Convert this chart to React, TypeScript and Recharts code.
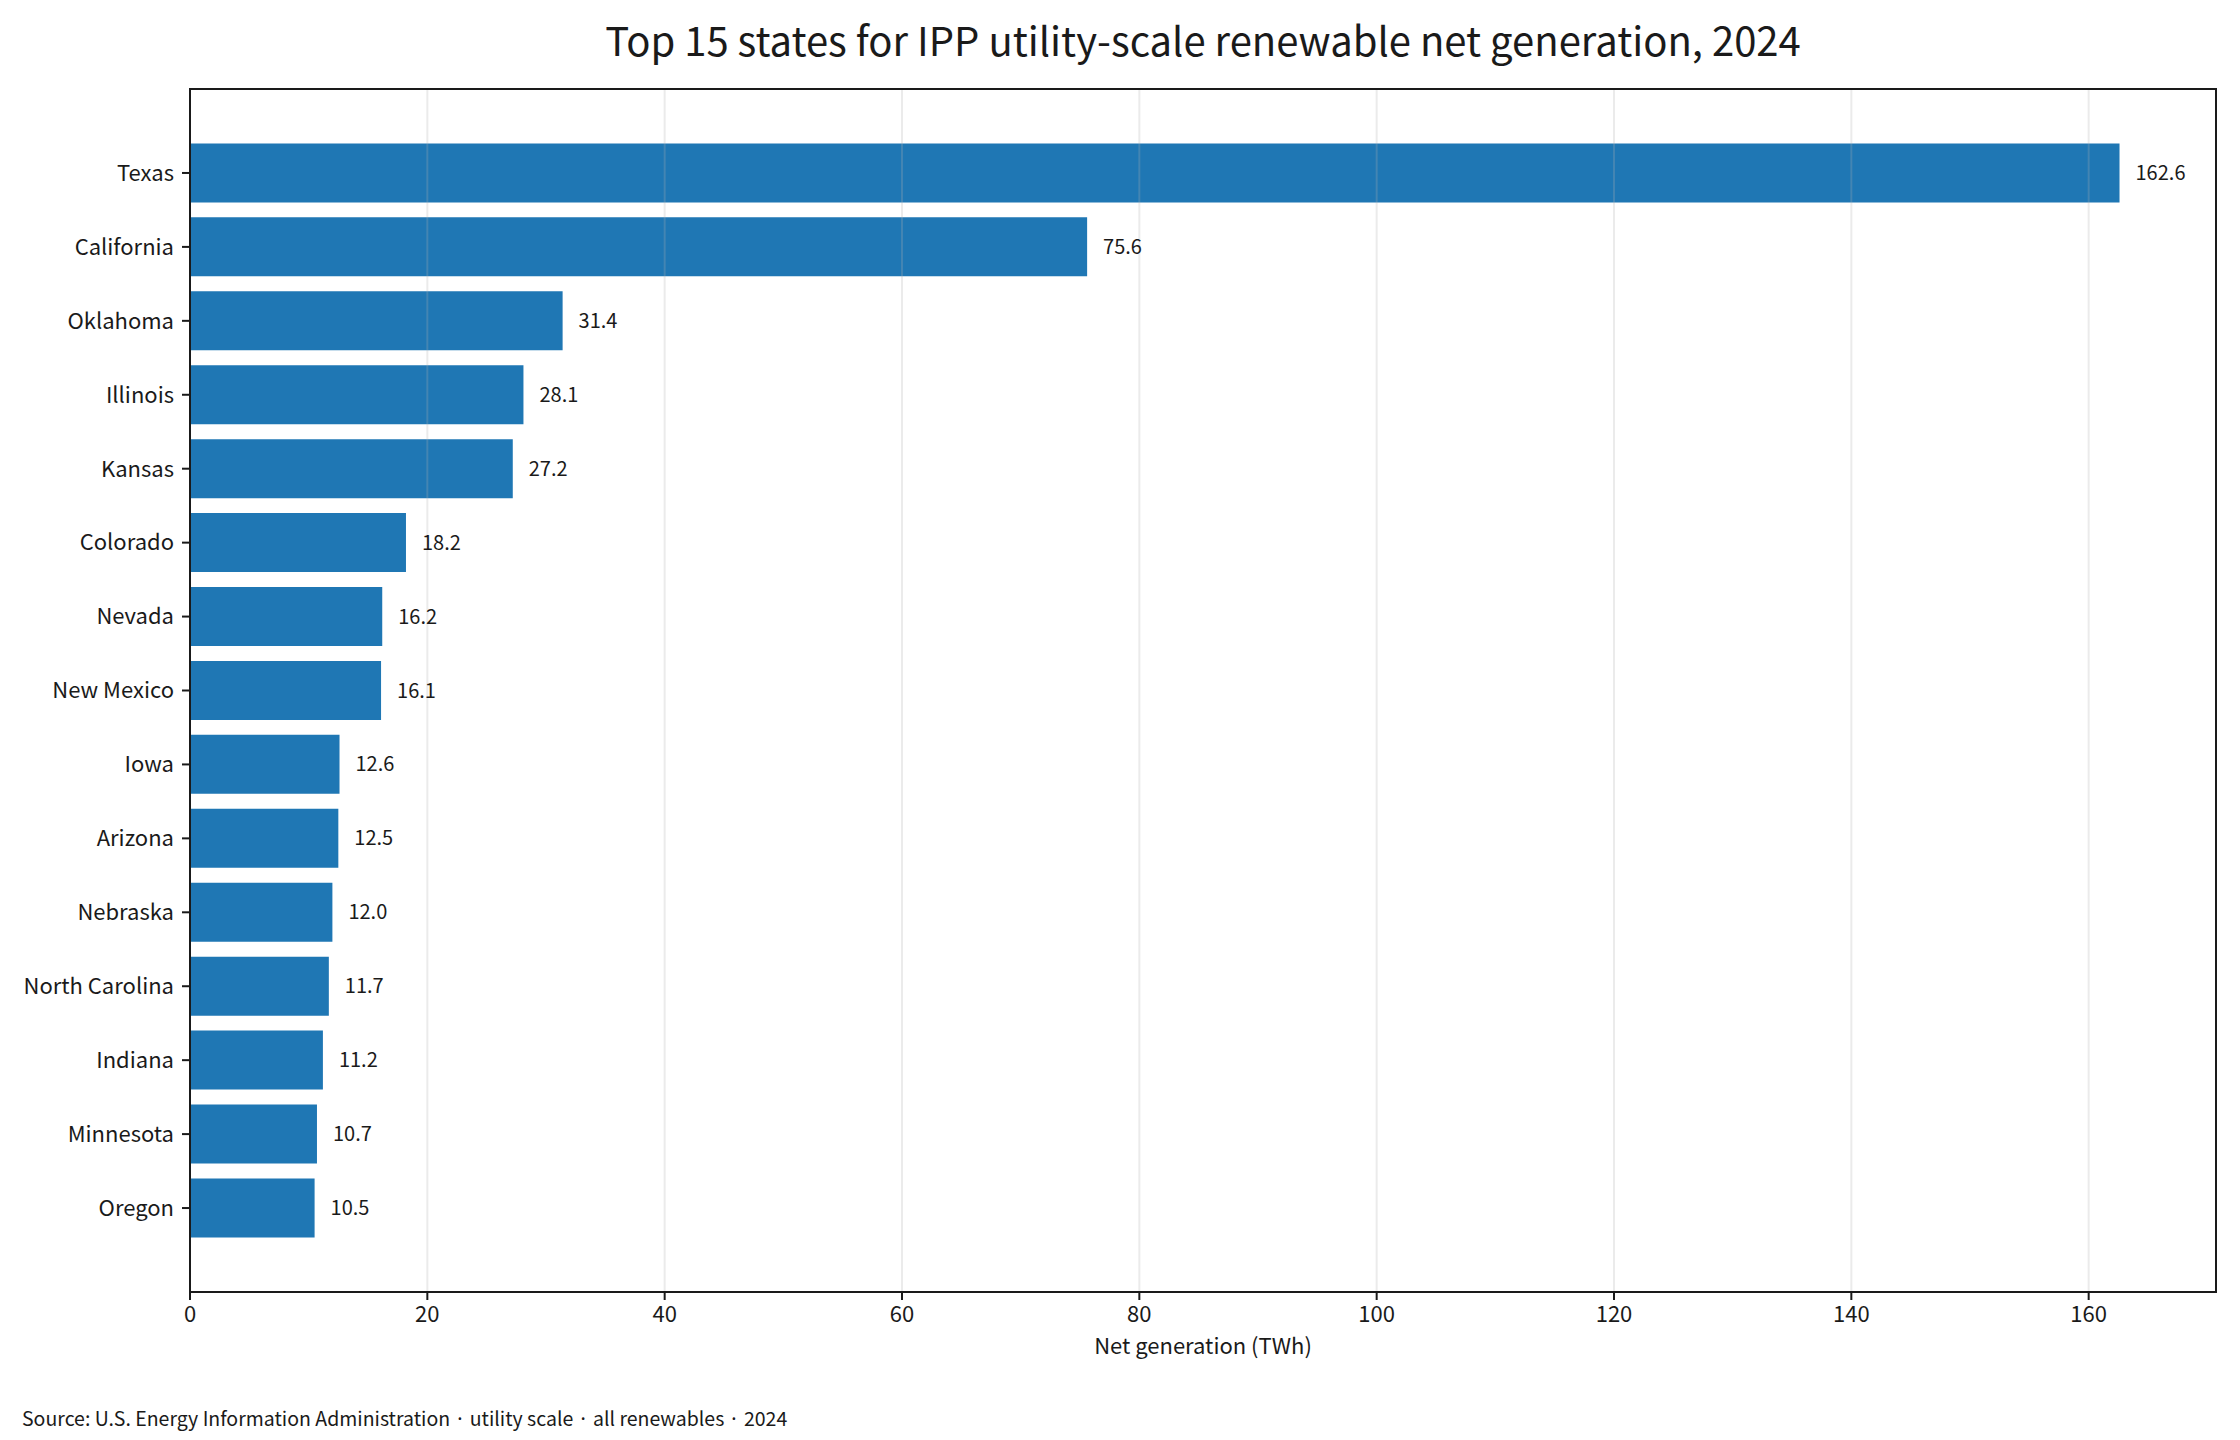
import { BarChart, Bar, XAxis, YAxis, LabelList, ReferenceLine } from "recharts"

// states, top to bottom
const states = [
  "Texas",
  "California",
  "Oklahoma",
  "Illinois",
  "Kansas",
  "Colorado",
  "Nevada",
  "New Mexico",
  "Iowa",
  "Arizona",
  "Nebraska",
  "North Carolina",
  "Indiana",
  "Minnesota",
  "Oregon",
]

// net generation, TWh
const generation = [162.6, 75.6, 31.4, 28.1, 27.2, 18.2, 16.2, 16.1, 12.6, 12.5, 12.0, 11.7, 11.2, 10.7, 10.5]

const xTicks = [0, 20, 40, 60, 80, 100, 120, 140, 160]

const data = states.map((s, i) => ({ state: s, value: generation[i] }))

const FONT = '"Noto Sans CJK KR", "Noto Sans", sans-serif'
const BLUE = "#1f77b4"
const INK = "#1a1a1a"

// plot box in page pixels
const PLOT_LEFT = 190
const PLOT_TOP = 89
const PLOT_RIGHT = 2216
const PLOT_BOTTOM = 1292
const Y_AXIS_W = 180
const X_AXIS_H = 60

export default function App() {
  const xMax = Math.max(...generation) * 1.05

  return (
    <div style={{ position: "absolute", left: 0, top: 0, width: 2240, height: 1440, background: "#fff", fontFamily: FONT }}>
      <div
        style={{
          position: "absolute",
          top: 10,
          left: PLOT_LEFT,
          width: PLOT_RIGHT - PLOT_LEFT,
          textAlign: "center",
          fontSize: 40,
          color: INK,
        }}
      >
        Top 15 states for IPP utility-scale renewable net generation, 2024
      </div>

      <BarChart
        width={2240}
        height={1440}
        data={data}
        layout="vertical"
        barCategoryGap="10%"
        margin={{
          top: PLOT_TOP,
          left: PLOT_LEFT - Y_AXIS_W,
          right: 2240 - PLOT_RIGHT,
          bottom: 1440 - PLOT_BOTTOM - X_AXIS_H,
        }}
        style={{ position: "absolute", left: 0, top: 0 }}
      >
        <XAxis
          type="number"
          domain={[0, xMax]}
          ticks={xTicks}
          height={X_AXIS_H}
          allowDataOverflow
          tickSize={8}
          tickMargin={6}
          axisLine={{ stroke: INK, strokeWidth: 2 }}
          tickLine={{ stroke: INK, strokeWidth: 2 }}
          tick={{ fill: INK, fontSize: 22, fontFamily: FONT }}
        />
        <YAxis
          type="category"
          dataKey="state"
          width={Y_AXIS_W}
          padding={{ top: 47, bottom: 47 }}
          tickSize={8}
          tickMargin={8}
          interval={0}
          axisLine={{ stroke: INK, strokeWidth: 2 }}
          tickLine={{ stroke: INK, strokeWidth: 2 }}
          tick={{ fill: INK, fontSize: 22, fontFamily: FONT }}
        />
        <Bar dataKey="value" fill={BLUE} isAnimationActive={false}>
          <LabelList
            dataKey="value"
            position="right"
            offset={16}
            formatter={(v: any) => Number(v).toFixed(1)}
            style={{ fill: INK, fontSize: 20, fontFamily: FONT }}
          />
        </Bar>
        {xTicks.map((t) => (
          <ReferenceLine key={t} x={t} stroke="#b0b0b0" strokeOpacity={0.25} strokeWidth={2} />
        ))}
      </BarChart>

      {/* box around the plot */}
      <div
        style={{
          position: "absolute",
          left: PLOT_LEFT - 1,
          top: PLOT_TOP - 1,
          width: PLOT_RIGHT - PLOT_LEFT + 2,
          height: PLOT_BOTTOM - PLOT_TOP + 2,
          border: `2px solid ${INK}`,
          boxSizing: "border-box",
          pointerEvents: "none",
        }}
      />

      <div
        style={{
          position: "absolute",
          top: 1328,
          left: PLOT_LEFT,
          width: PLOT_RIGHT - PLOT_LEFT,
          textAlign: "center",
          fontSize: 22,
          color: INK,
        }}
      >
        Net generation (TWh)
      </div>

      <div style={{ position: "absolute", top: 1403, left: 22, fontSize: 19.5, color: INK }}>
        Source: U.S. Energy Information Administration · utility scale · all renewables · 2024
      </div>
    </div>
  )
}
